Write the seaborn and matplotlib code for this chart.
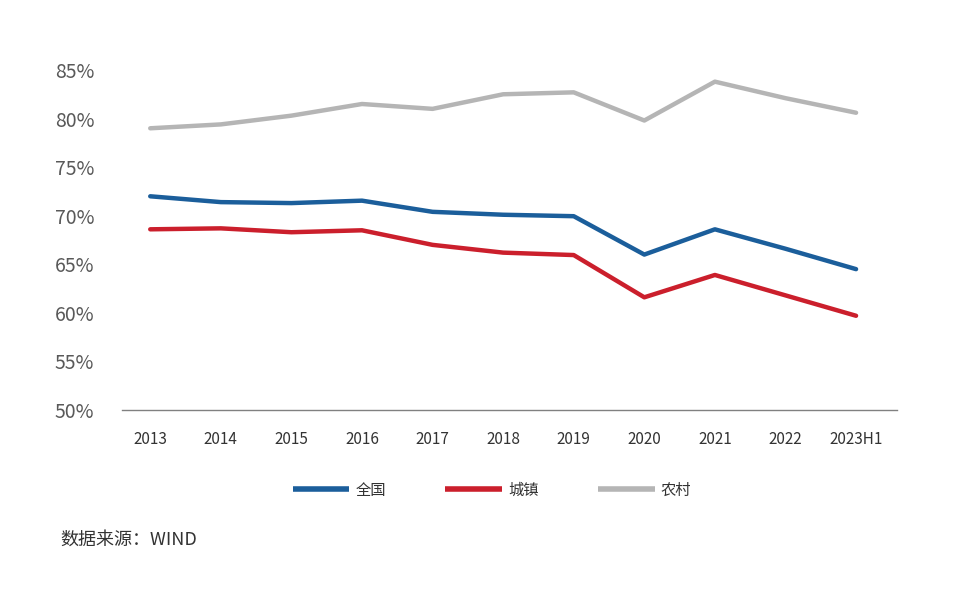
import matplotlib
matplotlib.use("Agg")
import matplotlib.pyplot as plt
import seaborn as sns
import pandas as pd
import numpy as np

years = ["2013", "2014", "2015", "2016", "2017", "2018", "2019", "2020", "2021", "2022", "2023H1"]
national = [72.0, 71.4, 71.3, 71.55, 70.4, 70.1, 69.95, 66.0, 68.6, 66.6, 64.5]
urban = [68.6, 68.7, 68.3, 68.5, 67.0, 66.2, 65.95, 61.6, 63.9, 61.8, 59.7]
rural = [79.0, 79.4, 80.3, 81.5, 81.0, 82.5, 82.7, 79.8, 83.8, 82.1, 80.6]
series_names = ["全国", "城镇", "农村"]
colors = ["#1B5E9B", "#CB1F2C", "#B5B5B5"]
yticks = [50, 55, 60, 65, 70, 75, 80, 85]
source = "数据来源：WIND"

sns.set_theme(style="white")
plt.rcParams["font.family"] = ["Noto Sans CJK SC", "DejaVu Sans"]

pos = list(range(len(years)))
df = pd.DataFrame({
    "pos": pos * 3,
    "value": national + urban + rural,
    "series": [series_names[0]] * len(years) + [series_names[1]] * len(years) + [series_names[2]] * len(years),
})

fig = plt.figure(figsize=(9.6, 5.95), dpi=100)
ax = fig.add_axes([122 / 960, 185 / 595, 775 / 960, 340 / 595])
sns.lineplot(data=df, x="pos", y="value", hue="series", hue_order=series_names,
             palette=colors, linewidth=3.2, ax=ax, legend=True, sort=False)

ax.set_xlim(-0.40, 10.58)
ax.set_ylim(50, 85)
ax.set_yticks(yticks)
ax.set_yticklabels([f"{v}%" for v in yticks], fontsize=14, color="#595959")
ax.set_xticks(pos)
ax.set_xticklabels(years, fontsize=11, color="#333333")
ax.tick_params(axis="y", length=0, pad=20)
ax.tick_params(axis="x", length=0, pad=15)
ax.set_xlabel("")
ax.set_ylabel("")
for s in ["top", "right", "left"]:
    ax.spines[s].set_visible(False)
ax.spines["bottom"].set_color("#808080")
ax.spines["bottom"].set_linewidth(1.0)
ax.grid(False)
for line in ax.lines:
    line.set_clip_on(False)

handles, labels = ax.get_legend_handles_labels()
ax.get_legend().remove()
leg = fig.legend(handles, labels, loc="center", bbox_to_anchor=(492 / 960, 1 - 490 / 595),
                 ncol=3, frameon=False, fontsize=11, handlelength=3.7, columnspacing=3.9,
                 handletextpad=0.4)
for h in leg.legend_handles:
    h.set_linewidth(4)
    h.set_solid_capstyle("butt")
for t in leg.get_texts():
    t.set_color("#333333")

fig.text(60 / 960, 1 - 540 / 595, source, fontsize=13, color="#333333", va="center", ha="left")

fig.savefig("out.png", dpi=100, facecolor="white")
